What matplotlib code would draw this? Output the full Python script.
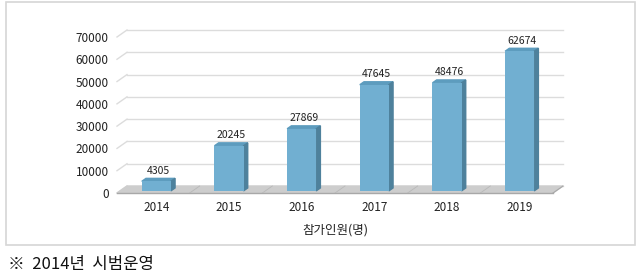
import matplotlib.pyplot as plt
import matplotlib.patches as mpatches
import numpy as np

plt.rcParams["font.family"] = ["Noto Sans CJK KR", "DejaVu Sans"]

years = ["2014", "2015", "2016", "2017", "2018", "2019"]
participants = [4305, 20245, 27869, 47645, 48476, 62674]
y_ticks = [0, 10000, 20000, 30000, 40000, 50000, 60000, 70000]
x_title = "참가인원(명)"
footnote = "※  2014년  시범운영"

FRONT = "#71AFD1"
SIDE = "#4E819C"
TOP = "#5D9CBE"
GRID = "#DCDCDC"
FLOOR = "#CDCDCD"

# fake 3D depth (in data units)
ddx, ddy = 0.1376, 3140
bar_w = 0.4
f0, f1 = 0.3, 0.72  # bar front / back as fraction of the depth

fig = plt.figure(figsize=(6.4, 2.79), dpi=100)
W, H = 640, 279
ax = fig.add_axes([117 / W, (H - 193) / H, 446 / W, 163 / H])
ax.set_xlim(-0.5, 5.5 + ddx)
ax.set_ylim(0, 70000 + ddy)
for s in ax.spines.values():
    s.set_visible(False)

# back wall gridlines and diagonal connectors
for v in y_ticks:
    ax.plot([-0.5 + ddx, 5.5 + ddx], [v + ddy, v + ddy], color=GRID, lw=1, zorder=1, clip_on=False)
    ax.plot([-0.5, -0.5 + ddx], [v, v + ddy], color=GRID, lw=1, zorder=1, clip_on=False)

# floor
ax.fill([-0.5, 5.5, 5.5 + ddx, -0.5 + ddx], [0, 0, ddy, ddy], color=FLOOR, zorder=2, clip_on=False)
ax.plot([-0.5, 5.5], [0, 0], color="#A8A8A8", lw=1, zorder=2, clip_on=False)
for b in np.arange(0.5, 5.5, 1.0):
    ax.plot([b, b + ddx], [0, ddy], color="#B8B8B8", lw=0.6, zorder=2)
ax.plot([5.5, 5.5 + ddx], [0, ddy], color="#A8A8A8", lw=0.8, zorder=2, clip_on=False)

x = np.arange(len(years))
xf = x + f0 * ddx
bottom = f0 * ddy
ax.bar(xf, participants, width=bar_w, bottom=bottom, color=FRONT, zorder=4)

bdx, bdy = (f1 - f0) * ddx, (f1 - f0) * ddy
for xi, v in zip(xf, participants):
    xl, xr = xi - bar_w / 2, xi + bar_w / 2
    top = v + bottom
    ax.fill([xl, xr, xr + bdx, xl + bdx], [top, top, top + bdy, top + bdy], color=TOP, zorder=3)
    ax.fill([xr, xr + bdx, xr + bdx, xr], [bottom, bottom + bdy, top + bdy, top], color=SIDE, zorder=3)
    ax.annotate(f"{v}", (xi + bdx / 2, top + bdy), xytext=(0, 2), textcoords="offset points",
                ha="center", va="bottom", fontsize=7.5, color="#222222", zorder=5)

ax.set_yticks(y_ticks)
ax.set_yticklabels([str(t) for t in y_ticks], fontsize=8.5, color="#222222")
ax.set_xticks(xf)
ax.set_xticklabels(years, fontsize=8.5, color="#222222")
ax.tick_params(axis="y", length=0, pad=6)
ax.tick_params(axis="x", length=0, pad=6)

fig.text(335 / W, 1 - 230 / H, x_title, ha="center", va="center", fontsize=9, color="#222222")
fig.text(8 / W, 1 - 265 / H, footnote, ha="left", va="center", fontsize=12, color="#111111")

# outer frame
fig.patches.append(mpatches.Rectangle((6 / W, 1 - 245 / H), 629 / W, 243 / H,
                                      transform=fig.transFigure, fill=False,
                                      edgecolor="#D6D6D6", lw=1.2))

fig.savefig("out.png", dpi=100)
